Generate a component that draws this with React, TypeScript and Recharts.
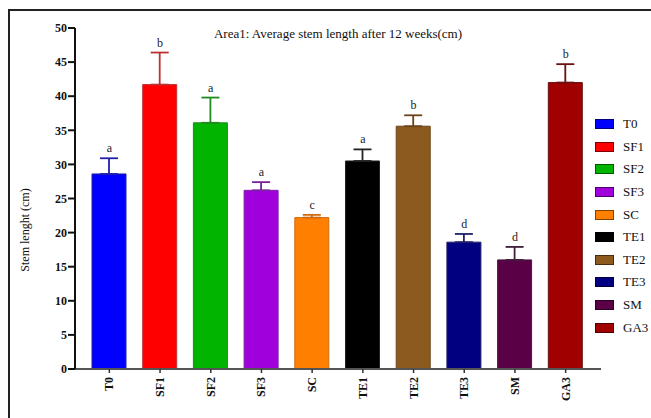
import React from 'react'
import { ComposedChart, Bar, ErrorBar, Scatter, XAxis, YAxis } from 'recharts'

const categories = ['T0', 'SF1', 'SF2', 'SF3', 'SC', 'TE1', 'TE2', 'TE3', 'SM', 'GA3']
const means = [28.6, 41.7, 36.1, 26.2, 22.2, 30.5, 35.6, 18.6, 16.0, 42.0]
const errors = [2.3, 4.7, 3.7, 1.2, 0.4, 1.7, 1.6, 1.2, 1.9, 2.7]
const letters = ['a', 'b', 'a', 'a', 'c', 'a', 'b', 'd', 'd', 'b']
const colors = ['#0000ff', '#ff0000', '#00b400', '#a000dc', '#ff8000', '#000000', '#8c5a1e', '#000080', '#5a0046', '#a00000']
const errColors = ['#2020a8', '#c03030', '#208a20', '#7a20a0', '#d06a10', '#222222', '#6a4418', '#20206a', '#40203a', '#6a1010']
const yTicks = [0, 5, 10, 15, 20, 25, 30, 35, 40, 45, 50]

// one row per category; each category gets its own series so the error bar can take its colour
const data = categories.map((name, i) => ({
    name,
    [`v${i}`]: means[i],
    [`e${i}`]: [0, errors[i]],
    top: means[i] + errors[i],
    letter: letters[i],
}))

const serif = '"Liberation Serif", "Times New Roman", serif'

const CategoryTick = ({ x, y, payload }: any) => (
    <text
        transform={`translate(${x + 4}, ${y + 2}) rotate(-90)`}
        textAnchor="end"
        fontFamily={serif}
        fontWeight="bold"
        fontSize={12}
        fill="#111"
    >
        {payload.value}
    </text>
)

const LetterShape = (props: any) => (
    <text x={props.cx} y={props.cy - 6} textAnchor="middle" fontFamily={serif} fontSize={12} fill="#222">
        {props.payload.letter}
    </text>
)

const SideLegend = () => (
    <div style={{ position: 'absolute', left: 595, top: 113, fontFamily: serif, fontSize: 13, color: '#111' }}>
        {categories.map((c, i) => (
            <div key={c} style={{ display: 'flex', alignItems: 'center', height: 22.6 }}>
                <span
                    style={{
                        width: 17,
                        height: 8,
                        background: colors[i],
                        border: '0.5px solid rgba(0,0,0,0.5)',
                        marginRight: 9,
                    }}
                />
                <span>{c}</span>
            </div>
        ))}
    </div>
)

export default function App() {
    return (
        <div style={{ position: 'absolute', left: 0, top: 0, width: 651, height: 418, background: '#fff', overflow: 'hidden' }}>
            <div
                style={{
                    position: 'absolute',
                    left: 8,
                    top: 9,
                    width: 660,
                    height: 430,
                    borderLeft: '2px solid #222',
                    borderTop: '2px solid #222',
                }}
            />
            <div
                style={{
                    position: 'absolute',
                    left: 0,
                    width: 676,
                    top: 26,
                    textAlign: 'center',
                    fontFamily: serif,
                    fontSize: 13,
                    color: '#111',
                }}
            >
                Area1: Average stem length after 12 weeks(cm)
            </div>
            <div
                style={{
                    position: 'absolute',
                    left: 25,
                    top: 230,
                    transform: 'translate(-50%, -50%) rotate(-90deg)',
                    whiteSpace: 'nowrap',
                    fontFamily: serif,
                    fontSize: 12,
                    color: '#111',
                }}
            >
                Stem lenght (cm)
            </div>
            <ComposedChart
                width={651}
                height={418}
                data={data}
                margin={{ top: 28, right: 50, bottom: 0, left: 35 }}
                style={{ position: 'absolute', left: 0, top: 0 }}
            >
                <XAxis
                    dataKey="name"
                    height={49}
                    padding={{ left: 9, right: 10 }}
                    tick={<CategoryTick />}
                    tickSize={4}
                    stroke="#555"
                    axisLine={{ stroke: '#555', strokeWidth: 2 }}
                    tickLine={{ stroke: '#333', strokeWidth: 1.5 }}
                    interval={0}
                />
                <YAxis
                    width={40}
                    domain={[0, 50]}
                    ticks={yTicks}
                    tickSize={7}
                    axisLine={{ stroke: '#111', strokeWidth: 2 }}
                    tickLine={{ stroke: '#111', strokeWidth: 2 }}
                    tick={{ fontFamily: serif, fontWeight: 'bold', fontSize: 12, fill: '#111' }}
                    tickMargin={1}
                />
                {categories.map((c, i) => (
                    <Bar
                        key={c}
                        dataKey={`v${i}`}
                        stackId="s"
                        barSize={34}
                        fill={colors[i]}
                        stroke={errColors[i]}
                        strokeWidth={1}
                        isAnimationActive={false}
                    >
                        <ErrorBar dataKey={`e${i}`} width={9} strokeWidth={1.8} stroke={errColors[i]} />
                    </Bar>
                ))}
                <Scatter dataKey="top" shape={<LetterShape />} isAnimationActive={false} />
            </ComposedChart>
            <SideLegend />
        </div>
    )
}
